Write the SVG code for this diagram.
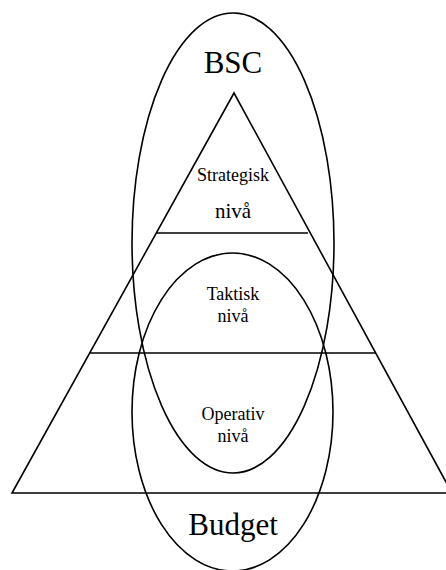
<svg xmlns="http://www.w3.org/2000/svg" width="446" height="570" viewBox="0 0 446 570">
<style>
.s{fill:none;stroke:#000;stroke-width:1.6}
.t{font-family:"Liberation Serif","Times New Roman",serif;fill:#000;text-anchor:middle}
</style>
<rect width="446" height="570" fill="#fff"/>
<g id="pyramid">
<polygon class="s" points="234,93 12,493 452,493"/>
<line class="s" x1="157" y1="233" x2="308" y2="233"/>
<line class="s" x1="89" y1="353" x2="376" y2="353"/>
</g>
<g id="bsc">
<ellipse class="s" cx="233" cy="243" rx="101" ry="230"/>
<text class="t" x="233" y="73" font-size="31">BSC</text>
</g>
<g id="budget">
<ellipse class="s" cx="232.5" cy="412" rx="100.5" ry="159"/>
<text class="t" x="233" y="535" font-size="31">Budget</text>
</g>
<g id="strategisk">
<text class="t" x="233" y="181" font-size="18">Strategisk</text>
<text class="t" x="233" y="218" font-size="21">nivå</text>
</g>
<g id="taktisk">
<text class="t" x="233" y="300" font-size="18">Taktisk</text>
<text class="t" x="233" y="322" font-size="18">nivå</text>
</g>
<g id="operativ">
<text class="t" x="233" y="420" font-size="18">Operativ</text>
<text class="t" x="233" y="442" font-size="18">nivå</text>
</g>
</svg>
